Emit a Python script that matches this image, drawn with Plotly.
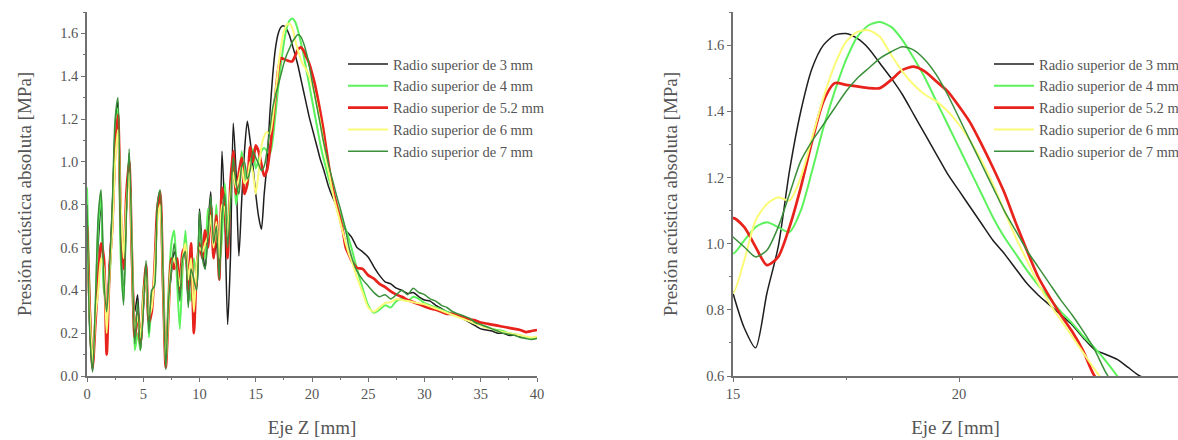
import numpy as np
import plotly.graph_objects as go

# ---- sampling positions along Z [mm] ----
z_a = np.round(np.arange(0.0, 15.001, 0.25), 2)      # 0 .. 15
z_b = np.round(np.arange(15.25, 24.001, 0.25), 2)    # 15.25 .. 24
z_c = np.round(np.arange(24.5, 40.001, 0.5), 2)      # 24.5 .. 40
z = np.concatenate([z_a, z_b, z_c])

# ---- Radio superior de 3 mm ----
r3_a = [0.75,0.22,0.02,0.30,0.62,0.80,0.42,0.32,0.52,0.78,1.15,1.28,0.62,0.38,0.78,1.04,
        0.55,0.30,0.38,0.12,0.32,0.50,0.22,0.38,0.44,0.76,0.84,0.46,0.04,0.33,0.48,0.58,
        0.52,0.38,0.52,0.58,0.34,0.48,0.40,0.42,0.78,0.60,0.50,0.70,0.86,0.55,0.62,0.48,
        1.05,0.75,0.24,0.55,1.18,0.95,0.56,0.82,1.05,1.19,1.10,0.98,0.85]
r3_b = [0.745,0.685,0.85,0.99,1.22,1.40,1.53,1.60,1.63,1.635,1.62,1.59,1.545,1.50,1.45,1.39,
        1.33,1.27,1.21,1.16,1.11,1.06,1.01,0.97,0.925,0.88,0.845,0.815,0.785,0.755,0.715,0.68,
        0.665,0.65,0.625,0.60]
r3_c = [0.58,0.555,0.51,0.47,0.44,0.43,0.41,0.40,0.385,0.39,0.37,0.355,0.35,0.33,0.315,0.30,
        0.29,0.28,0.265,0.25,0.235,0.22,0.215,0.21,0.20,0.20,0.19,0.19,0.185,0.18,0.175,0.178]

# ---- Radio superior de 4 mm ----
r4_a = [0.88,0.35,0.05,0.30,0.70,0.85,0.40,0.35,0.45,0.75,1.10,1.25,0.55,0.35,0.80,1.02,
        0.50,0.12,0.20,0.12,0.40,0.50,0.18,0.35,0.45,0.75,0.82,0.40,0.06,0.40,0.62,0.68,
        0.45,0.22,0.50,0.68,0.45,0.35,0.55,0.45,0.70,0.60,0.55,0.78,0.72,0.60,0.80,0.50,
        0.65,0.90,0.70,0.85,1.00,0.80,0.90,1.05,0.95,0.88,1.00,1.06,0.97]
r4_b = [1.01,1.05,1.065,1.05,1.035,1.10,1.22,1.35,1.46,1.555,1.625,1.66,1.67,1.655,1.615,1.56,
        1.50,1.43,1.36,1.29,1.22,1.15,1.08,1.02,0.97,0.92,0.875,0.835,0.795,0.76,0.72,0.685,
        0.645,0.60,0.55,0.50]
r4_c = [0.41,0.33,0.295,0.31,0.33,0.32,0.35,0.36,0.35,0.37,0.36,0.34,0.33,0.32,0.31,0.30,
        0.29,0.28,0.27,0.26,0.25,0.24,0.23,0.22,0.215,0.21,0.20,0.195,0.19,0.18,0.175,0.18]

# ---- Radio superior de 5.2 mm ----
r52_a = [0.70,0.30,0.04,0.25,0.45,0.62,0.55,0.10,0.50,0.70,1.05,1.22,0.75,0.50,0.85,1.00,
         0.55,0.18,0.30,0.15,0.35,0.52,0.25,0.30,0.50,0.78,0.86,0.45,0.04,0.30,0.55,0.50,
         0.55,0.40,0.58,0.60,0.40,0.62,0.20,0.50,0.62,0.55,0.68,0.60,0.80,0.55,0.75,0.45,
         0.88,0.80,0.55,0.90,1.05,0.85,0.95,1.02,0.85,0.90,1.07,1.00,1.077]
r52_b = [1.05,0.99,0.935,0.96,1.05,1.17,1.31,1.43,1.485,1.48,1.475,1.47,1.47,1.495,1.525,1.535,
         1.52,1.49,1.46,1.415,1.365,1.30,1.23,1.155,1.065,0.98,0.90,0.84,0.785,0.735,0.675,0.60,
         0.57,0.54,0.52,0.505]
r52_c = [0.50,0.47,0.455,0.43,0.415,0.395,0.38,0.37,0.355,0.345,0.335,0.325,0.315,0.31,0.30,0.29,
         0.29,0.28,0.275,0.265,0.26,0.25,0.245,0.24,0.235,0.23,0.225,0.22,0.215,0.205,0.21,0.215]

# ---- Radio superior de 6 mm ----
r6_a = [0.65,0.28,0.06,0.28,0.40,0.55,0.50,0.20,0.48,0.68,1.00,1.15,0.80,0.55,0.80,0.95,
        0.58,0.22,0.28,0.18,0.35,0.48,0.28,0.32,0.48,0.72,0.80,0.48,0.05,0.32,0.52,0.55,
        0.50,0.42,0.55,0.62,0.45,0.55,0.30,0.52,0.60,0.58,0.62,0.65,0.75,0.60,0.72,0.55,
        0.80,0.78,0.65,0.85,0.95,0.88,0.92,0.98,0.90,0.92,1.00,0.95,0.85]
r6_b = [0.95,1.07,1.12,1.14,1.13,1.20,1.32,1.44,1.54,1.61,1.64,1.645,1.625,1.57,1.52,1.48,
        1.45,1.43,1.40,1.36,1.31,1.25,1.18,1.10,1.02,0.95,0.88,0.82,0.77,0.72,0.67,0.62,
        0.575,0.54,0.50,0.46]
r6_c = [0.39,0.32,0.30,0.32,0.34,0.345,0.36,0.355,0.35,0.345,0.34,0.335,0.325,0.315,0.305,0.295,
        0.285,0.275,0.265,0.255,0.245,0.235,0.225,0.22,0.21,0.205,0.20,0.195,0.19,0.185,0.18,0.185]

# ---- Radio superior de 7 mm ----
r7_a = [0.80,0.20,0.02,0.35,0.75,0.87,0.45,0.30,0.50,0.80,1.20,1.30,0.60,0.33,0.75,1.06,
        0.60,0.15,0.35,0.12,0.30,0.54,0.20,0.40,0.42,0.80,0.87,0.50,0.03,0.35,0.50,0.62,
        0.50,0.35,0.55,0.58,0.32,0.50,0.45,0.40,0.77,0.55,0.50,0.65,0.84,0.62,0.70,0.45,
        0.75,0.85,0.60,0.80,1.02,0.90,0.85,0.98,1.00,0.92,0.96,1.05,1.02]
r7_b = [0.99,0.96,0.98,1.05,1.15,1.25,1.31,1.36,1.41,1.46,1.50,1.53,1.56,1.58,1.595,1.585,
        1.555,1.51,1.45,1.38,1.31,1.24,1.17,1.10,1.04,0.98,0.93,0.88,0.83,0.785,0.735,0.68,
        0.61,0.56,0.52,0.49]
r7_c = [0.45,0.42,0.39,0.37,0.38,0.36,0.38,0.40,0.38,0.41,0.39,0.38,0.36,0.35,0.33,0.32,
        0.30,0.29,0.28,0.27,0.25,0.24,0.23,0.22,0.21,0.20,0.195,0.19,0.18,0.175,0.17,0.175]

series_names = ["Radio superior de 3 mm", "Radio superior de 4 mm", "Radio superior de 5.2 mm",
                "Radio superior de 6 mm", "Radio superior de 7 mm"]
series_vals = [r3_a + r3_b + r3_c, r4_a + r4_b + r4_c, r52_a + r52_b + r52_c,
               r6_a + r6_b + r6_c, r7_a + r7_b + r7_c]
for v in series_vals:
    assert len(v) == len(z), (len(v), len(z))

colors = ["#1e1e1e", "#5cf25c", "#e8231c", "#fbfb78", "#3a8f3a"]
widths = [1.5, 2.0, 2.7, 2.0, 1.5]

W, H = 1178, 440
ML, MR, MT, MB = 87, 0, 12, 64
PW = W - ML - MR
PH = H - MT - MB

def px_x(p):
    return (p - ML) / PW

def px_y(p):
    return (H - MB - p) / PH

fig = go.Figure()
for name, vals, c, w in zip(series_names, series_vals, colors, widths):
    fig.add_trace(go.Scatter(x=z, y=vals, mode="lines", name=name,
                             line=dict(color=c, width=w, shape="spline", smoothing=0.7),
                             xaxis="x", yaxis="y", legend="legend"))
for name, vals, c, w in zip(series_names, series_vals, colors, widths):
    fig.add_trace(go.Scatter(x=z, y=vals, mode="lines", name=name,
                             line=dict(color=c, width=w, shape="spline", smoothing=0.7),
                             xaxis="x2", yaxis="y2", legend="legend2"))

axcol = "#707070"
tickfont = dict(family="Liberation Serif", size=14.5, color="#555555")
titlefont = dict(family="Liberation Serif", size=19, color="#555555")
legfont = dict(family="Liberation Serif", size=14.5, color="#555555")

def base_axis(**kw):
    d = dict(showgrid=False, zeroline=False, showline=True, linecolor=axcol, linewidth=1.5,
             ticks="outside", ticklen=4, tickwidth=1.3, tickcolor=axcol, tickfont=tickfont,
             mirror=False)
    d.update(kw)
    return d

def over_axis(**kw):
    d = dict(showgrid=False, zeroline=False, showline=False, ticks="inside", ticklen=4,
             tickwidth=1.3, tickcolor=axcol, showticklabels=False)
    d.update(kw)
    return d

L_dom = [0, px_x(537)]
R_dom = [px_x(733), 1.0]
R_xmax = 15 + (W - 733) / 45.2

fig.update_layout(
    width=W, height=H,
    margin=dict(l=ML, r=MR, t=MT, b=MB, autoexpand=False),
    plot_bgcolor="white", paper_bgcolor="white",
    showlegend=True,
    xaxis=base_axis(domain=L_dom, range=[0, 40], dtick=5, anchor="y",
                    minor=dict(ticks="outside", ticklen=2, dtick=2.5, tickcolor=axcol),
                    title=dict(text="Eje Z [mm]", font=titlefont, standoff=20)),
    yaxis=base_axis(domain=[0, 1], range=[0, 1.7], dtick=0.2, tickformat=".1f", anchor="x",
                    minor=dict(ticks="outside", ticklen=2, dtick=0.1, tickcolor=axcol),
                    title=dict(text="Presión acústica absoluta [MPa]", font=titlefont, standoff=24)),
    xaxis2=base_axis(domain=R_dom, range=[15, R_xmax], tickvals=[15, 20, 25], anchor="y2",
                     minor=dict(ticks="outside", ticklen=2, tickvals=[17.5, 22.5], tickcolor=axcol),
                     title=dict(text="Eje Z [mm]", font=titlefont, standoff=20)),
    yaxis2=base_axis(domain=[0, 1], range=[0.6, 1.7], dtick=0.2, tickformat=".1f", anchor="x2",
                     minor=dict(ticks="outside", ticklen=2, dtick=0.1, tickcolor=axcol),
                     title=dict(text="Presión acústica absoluta [MPa]", font=titlefont, standoff=24)),
    xaxis3=over_axis(overlaying="x", anchor="y", range=[0, 40], dtick=5,
                     minor=dict(ticks="inside", ticklen=2, dtick=2.5, tickcolor=axcol)),
    yaxis3=over_axis(overlaying="y", anchor="x", range=[0, 1.7], dtick=0.2,
                     minor=dict(ticks="inside", ticklen=2, dtick=0.1, tickcolor=axcol)),
    xaxis4=over_axis(overlaying="x2", anchor="y2", range=[15, R_xmax], tickvals=[15, 20, 25],
                     minor=dict(ticks="inside", ticklen=2, tickvals=[17.5, 22.5], tickcolor=axcol)),
    yaxis4=over_axis(overlaying="y2", anchor="x2", range=[0.6, 1.7], dtick=0.2,
                     minor=dict(ticks="inside", ticklen=2, dtick=0.1, tickcolor=axcol)),
    legend=dict(x=px_x(343), y=px_y(48), xanchor="left", yanchor="top",
                font=legfont, bgcolor="rgba(0,0,0,0)", borderwidth=0,
                itemwidth=40, tracegroupgap=0),
    legend2=dict(x=px_x(989), y=px_y(48), xanchor="left", yanchor="top",
                 font=legfont, bgcolor="rgba(0,0,0,0)", borderwidth=0,
                 itemwidth=40, tracegroupgap=0),
)

fig.write_html("out.html")
